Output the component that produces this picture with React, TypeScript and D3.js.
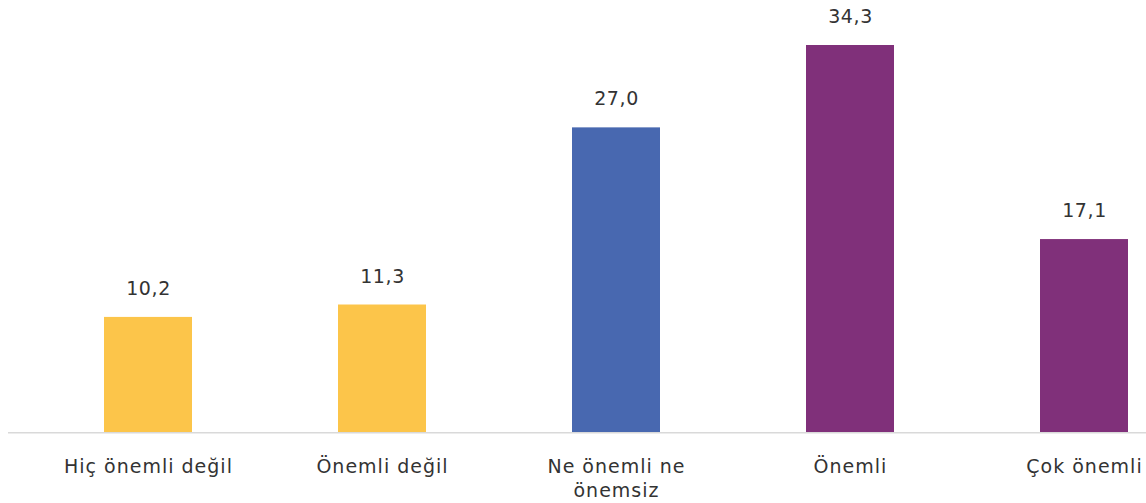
import * as d3 from "d3";

const categories = ["Hiç önemli değil", "Önemli değil", "Ne önemli ne\nönemsiz", "Önemli", "Çok önemli"];
const values = [10.2, 11.3, 27.0, 34.3, 17.1];
const barColors = ["#FCC54A", "#FCC54A", "#4868B0", "#80307A", "#80307A"];

const width = 1146;
const height = 503;
const baseline = 432;

export default function App() {
  const x = d3
    .scaleBand<string>()
    .domain(categories)
    .range([31, 31 + 234 * categories.length])
    .paddingInner(0.624)
    .paddingOuter(0.312);

  const y = d3.scaleLinear().domain([0, d3.max(values) as number]).range([baseline, 45]);

  const fmt = (v: number) => d3.format(".1f")(v).replace(".", ",");
  const font = "'DejaVu Sans', sans-serif";

  return (
    <svg
      width={width}
      height={height}
      style={{ position: "absolute", left: 0, top: 0, background: "#fff" }}
    >
      {categories.map((c, i) => (
        <rect
          key={c}
          x={x(c)}
          y={y(values[i])}
          width={x.bandwidth()}
          height={baseline - y(values[i])}
          fill={barColors[i]}
        />
      ))}

      <line x1={8} x2={width} y1={baseline + 0.75} y2={baseline + 0.75} stroke="#d9d9d9" strokeWidth={1.5} />

      {categories.map((c, i) => (
        <text
          key={"v" + c}
          x={(x(c) as number) + x.bandwidth() / 2 + 0.5}
          y={y(values[i]) - 22}
          textAnchor="middle"
          fontFamily={font}
          fontSize={19}
          letterSpacing={0.6}
          fill="#333"
        >
          {fmt(values[i])}
        </text>
      ))}

      {categories.map((c) => (
        <text
          key={"c" + c}
          x={(x(c) as number) + x.bandwidth() / 2 + 0.5}
          y={473}
          textAnchor="middle"
          fontFamily={font}
          fontSize={19}
          letterSpacing={1}
          fill="#333"
        >
          {c.split("\n").map((line, j) => (
            <tspan key={j} x={(x(c) as number) + x.bandwidth() / 2 + 0.5} dy={j === 0 ? 0 : 24}>
              {line}
            </tspan>
          ))}
        </text>
      ))}
    </svg>
  );
}
